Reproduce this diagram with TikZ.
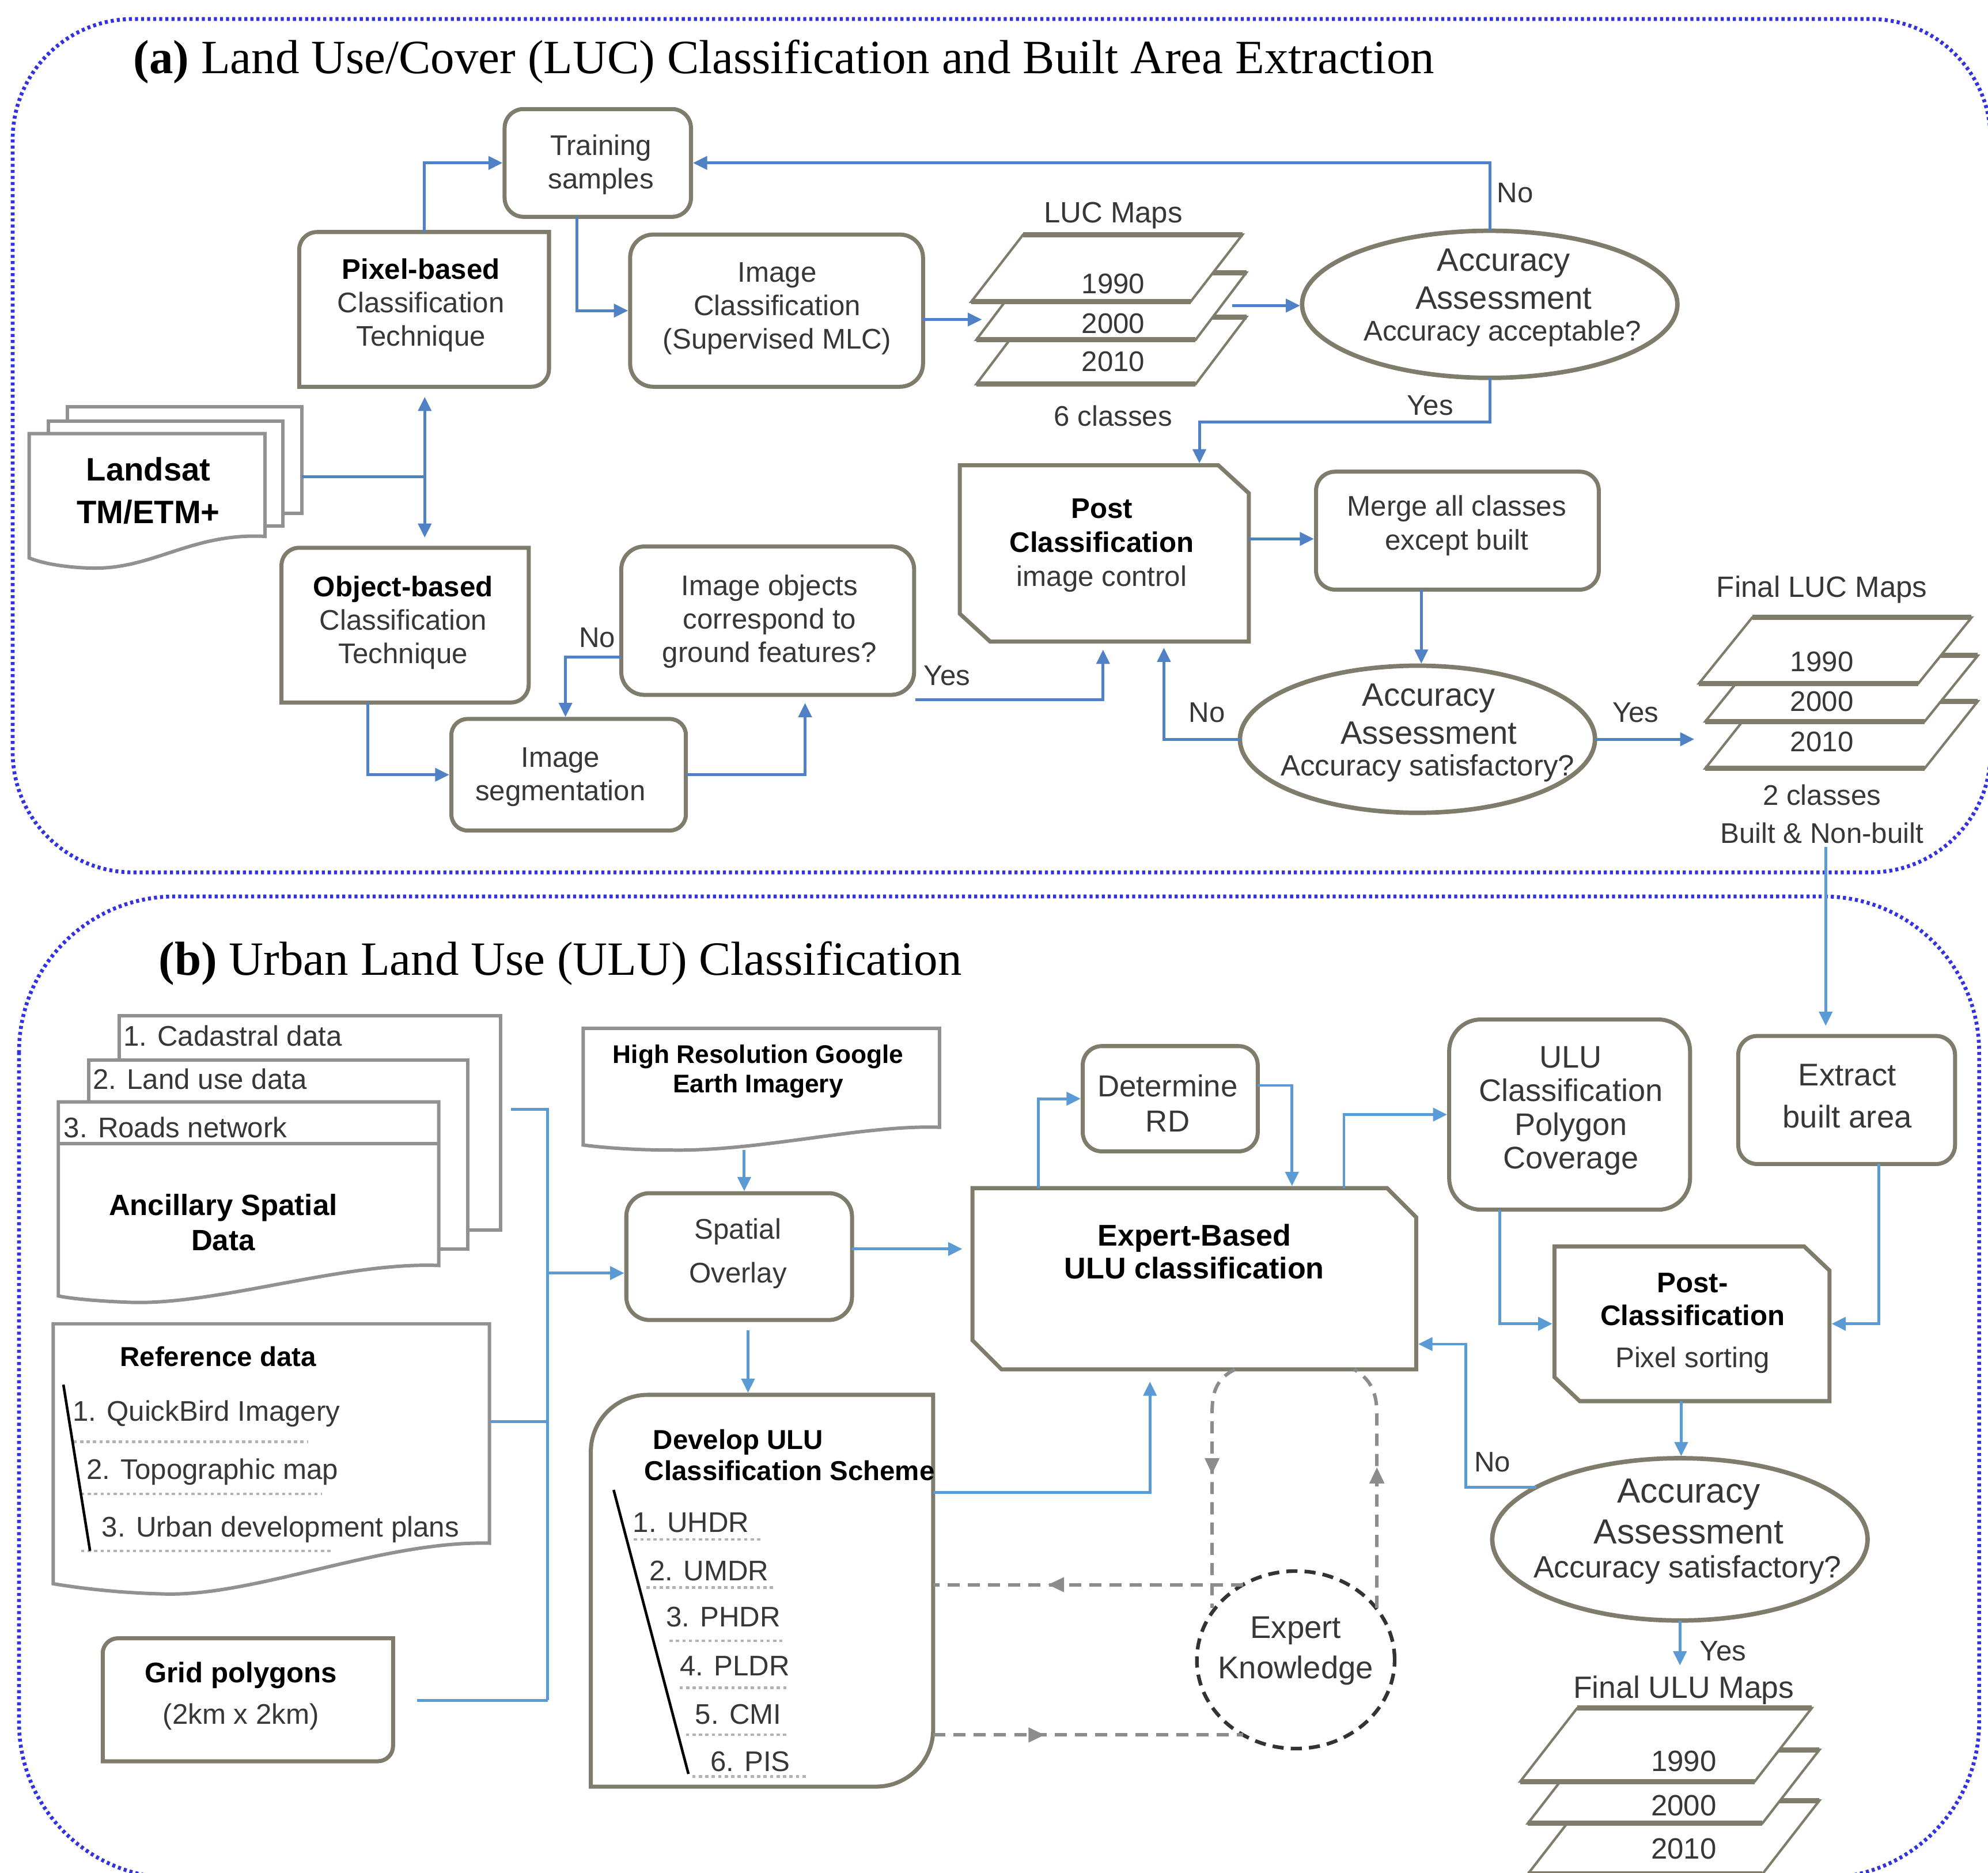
\documentclass[tikz,border=0pt]{standalone}
\usepackage{fontspec}
\setmainfont{Liberation Sans}
\newfontfamily\tserif{Liberation Serif}
\usetikzlibrary{arrows.meta,calc,decorations.markings,shapes.geometric}
\definecolor{frameblue}{RGB}{50,50,225}
\definecolor{arrblue}{RGB}{79,129,196}
\definecolor{arrblueb}{RGB}{91,155,213}
\definecolor{boxc}{RGB}{128,124,108}
\definecolor{docc}{RGB}{145,145,145}
\definecolor{txt}{RGB}{55,55,55}
\definecolor{dashc}{RGB}{140,140,140}
\newcommand\fsz[2]{\fontsize{#1}{#2}\selectfont}
\newcommand\bfk[1]{\textcolor{black}{\textbf{#1}}}
\newcommand\mkshp[6]{\node[inner sep=0pt, outer sep=0pt, minimum width={(#4-#2)*0.022009cm}, minimum height={(#5-#3)*0.022009cm}, #6] (#1) at ({(#2+#4)/2},{(#3+#5)/2}) {};}
\newcommand\mktlbr[5]{\draw[boxd] (#1,#4) -- (#1,{#2+#5}) .. controls (#1,{#2+0.448*#5}) and ({#1+0.448*#5},#2) .. ({#1+#5},#2) -- (#3,#2) -- (#3,{#4-#5}) .. controls (#3,{#4-0.448*#5}) and ({#3-0.448*#5},#4) .. ({#3-#5},#4) -- cycle;}
\newcommand\mksnip[6]{\draw[boxd] (#1,#2) -- ({#3-#5},#2) -- (#3,{#2+#6}) -- (#3,#4) -- ({#1+#5},#4) -- (#1,{#4-#6}) -- cycle;}
\newcommand\mkpara[5]{\draw[paraf] (#1,#2) -- ({#1+#3},#2) -- ({#1+#3+#5},{#2-#4}) -- ({#1+#5},{#2-#4}) -- cycle; \draw[parah] (#1,#2) -- ({#1+#3},#2); \draw[parah] ({#1+#5},{#2-#4}) -- ({#1+#3+#5},{#2-#4});}
\tikzset{
 frame/.style={draw=frameblue, line width=1.9pt, dash pattern=on 1.5pt off 1.5pt},
 boxd/.style={draw=boxc, line width=2pt, fill=white},
 docd/.style={draw=docc, line width=1.7pt, fill=white},
 paraf/.style={draw=boxc, line width=1.2pt, fill=white},
 parah/.style={draw=boxc, line width=2.6pt},
 ln/.style={draw=arrblue, line width=1.4pt},
 arr/.style={ln, -{Triangle[length=7pt,width=6.5pt]}, shorten >=1pt},
 lnb/.style={draw=arrblueb, line width=1.4pt},
 arrb/.style={lnb, -{Triangle[length=7pt,width=6.5pt]}, shorten >=1pt},
 tx/.style={text=txt, align=center, inner sep=0pt, font=\fsz{14}{16.5}},
 txl/.style={text=txt, align=left, inner sep=0pt, anchor=west, font=\fsz{14}{16.5}},
 dsh/.style={draw=dashc, line width=1.7pt, dash pattern=on 6pt off 4pt},
 dotl/.style={draw=gray!60, line width=1.2pt, dash pattern=on 1.6pt off 1.6pt},
 midarr/.style={postaction={decorate, decoration={markings, mark=at position #1 with {\arrow{Triangle[length=8pt,width=7pt]}}}}},
}
\begin{document}
\begin{tikzpicture}[x=0.022009cm, y=-0.022009cm]
\useasboundingbox (0,0) rectangle (1568,1477);
\begin{scope}
\clip (0,0) rectangle (1568,1477);
\draw[frame, rounded corners=2.09cm] (10,15) rectangle (1570,688);
\draw[frame, rounded corners=2.7cm] (15,707) rectangle (1561,1481);
% ULU maps stack
\mkpara{1205}{1478}{185}{58}{45}
\mkpara{1205}{1438}{185}{58}{45}
\mkpara{1199}{1405}{185}{58}{45}
\end{scope}

% ---------------- titles
\node[anchor=base west, inner sep=0pt, font=\tserif\fsz{23.6}{28}] (titleA) at (105,58) {\textbf{(a)} Land Use/Cover (LUC) Classification and Built Area Extraction};
\node[anchor=base west, inner sep=0pt, font=\tserif\fsz{23.6}{28}] (titleB) at (125,769) {\textbf{(b)} Urban Land Use (ULU) Classification};

% ---------------- part (a) shapes
\mkshp{train}{398}{86}{545}{171}{boxd, rounded corners=0.33cm}
\mkshp{pix}{236}{183}{433}{305}{}
\mktlbr{236}{183}{433}{305}{14}
\mkshp{imgc}{497}{185}{728}{305}{boxd, rounded corners=0.4cm}
\mkshp{obj}{222}{432}{417}{554}{}
\mktlbr{222}{432}{417}{554}{14}
\mkshp{seg}{356}{567}{541}{655}{boxd, rounded corners=0.28cm}
\mkshp{iobj}{490}{431}{721}{548}{boxd, rounded corners=0.4cm}
\mkshp{post}{757}{367}{985}{506}{}
\mksnip{757}{367}{985}{506}{24}{22}
\mkshp{merge}{1038}{372}{1261}{465}{boxd, rounded corners=0.33cm}
\mkshp{e1}{1027}{182}{1323}{298}{ellipse, boxd, line width=2.2pt}
\mkshp{e2}{978}{525}{1258}{641}{ellipse, boxd, line width=2.2pt}

% Landsat multi-document
\mkshp{landc}{53}{321}{238}{405}{draw=docc, line width=1.7pt, fill=white}
\mkshp{landb}{38}{332}{223}{415}{draw=docc, line width=1.7pt, fill=white}
\mkshp{land}{23}{342}{209}{440}{}
\draw[docd] (23,342) -- (209,342) -- (209,423) .. controls (150,420) and (120,450) .. (70,448) .. controls (45,447) and (30,443) .. (23,440) -- cycle;

% LUC maps stack
\mkpara{770}{303}{173}{53}{40}
\mkpara{770}{268}{173}{53}{40}
\mkpara{766}{238}{173}{53}{41}
\mkshp{luc}{766}{185}{983}{303}{}
% Final LUC maps stack
\mkpara{1345}{606}{173}{53}{42}
\mkpara{1345}{569}{173}{52}{42}
\mkpara{1340}{539}{173}{52}{42}
\mkshp{fluc}{1340}{487}{1560}{606}{}

% ---------------- part (a) texts
\node[tx] (trainT) at (474,130) {Training\\samples};
\node[tx] (pixT) at (332,240.5) {\bfk{Pixel-based}\\Classification\\Technique};
\node[tx] (imgcT) at (613,243.5) {Image\\Classification\\(Supervised MLC)};
\node[tx, font=\fsz{14.5}{17}] (lucT) at (878,170) {LUC Maps};
\node[tx] (y1a) at (878,224) {1990};
\node[tx] (y2a) at (878,255) {2000};
\node[tx] (y3a) at (878,285) {2010};
\node[tx] (c6T) at (878,328) {6 classes};
\node[tx, font=\fsz{16}{18.7}] (e1T) at (1186,220) {Accuracy\\Assessment};
\node[tx] (e1Q) at (1185,263) {Accuracy acceptable?};
\node[tx] (noA) at (1195,152) {No};
\node[tx] (yesA) at (1128,320) {Yes};
\node[tx, font=\bfseries\fsz{16}{21.2}, text=black] (landT) at (117,387) {Landsat\\TM/ETM+};
\node[tx] (objT) at (318,491) {\bfk{Object-based}\\Classification\\Technique};
\node[tx] (segT) at (442,613) {Image\\segmentation};
\node[tx] (iobjT) at (607,490) {Image objects\\correspond to\\ground features?};
\node[tx] (noB) at (471,503) {No};
\node[tx] (yesB) at (747,533) {Yes};
\node[tx, font=\fsz{14}{16.8}] (postT) at (869,430) {\bfk{Post}\\\bfk{Classification}\\image control};
\node[tx] (mergeT) at (1149,414.5) {Merge all classes\\except built};
\node[tx, font=\fsz{16}{18.7}] (e2T) at (1127,563) {Accuracy\\Assessment};
\node[tx, font=\fsz{14.5}{17}] (e2Q) at (1126,606) {Accuracy satisfactory?};
\node[tx] (noC) at (952,562) {No};
\node[tx] (yesC) at (1290,562) {Yes};
\node[tx, font=\fsz{14.5}{17}] (flucT) at (1437,465) {Final LUC Maps};
\node[tx] (y1b) at (1437,522) {1990};
\node[tx] (y2b) at (1437,553) {2000};
\node[tx] (y3b) at (1437,585) {2010};
\node[tx] (c2T) at (1437,627) {2 classes};
\node[tx] (bnbT) at (1437,657) {Built \& Non-built};

% ---------------- part (a) connectors
\coordinate (X455) at (455,0);
\coordinate (lucin) at (776,252);
\coordinate (lucout) at (972,241);
\coordinate (yes1) at (946,333);
\coordinate (jl) at (335,376);
\coordinate (X290) at (290,0);
\coordinate (X635) at (635,0);
\coordinate (Y518) at (0,518);
\coordinate (X446) at (446,0);
\coordinate (yes2s) at (722,552);
\coordinate (X870) at (870,0);
\coordinate (Y425) at (0,425);
\coordinate (X1121) at (1121,0);
\coordinate (X918) at (918,0);
\coordinate (flucin) at (1338,583);
\coordinate (fluco) at (1440,668);
\draw[arr] (pix.north) |- (train.west);
\draw[arr] (train.south -| X455) |- (imgc.west);
\draw[arr] (imgc.east |- lucin) -- (lucin);
\draw[arr] (lucout) -- (e1.west |- lucout);
\draw[arr] (e1.north) |- (train.east);
\draw[arr] (e1.south) |- (yes1) -- (post.north -| yes1);
\draw[ln] (landc.east |- jl) -- (jl);
\draw[arr] (jl) -- ([yshift=-4pt]pix.south -| jl);
\draw[arr] (jl) -- ([yshift=4pt]obj.north -| jl);
\draw[arr] (obj.south -| X290) |- (seg.west);
\draw[arr] (seg.east) -| ([yshift=-3pt]iobj.south -| X635);
\draw[arr] (iobj.west |- Y518) -| (seg.north -| X446);
\draw[arr] (yes2s) -| ([yshift=-3pt]post.south -| X870);
\draw[arr] (post.east |- Y425) -- (merge.west |- Y425);
\draw[arr] (merge.south -| X1121) -- (e2.north -| X1121);
\draw[arr] (e2.west) -| ([yshift=-2pt]post.south -| X918);
\draw[arr] (e2.east) -- (flucin);

% ---------------- part (b) shapes
% Ancillary multi-document
\mkshp{anc1}{94}{801}{395}{970}{draw=docc, line width=1.7pt, fill=white}
\mkshp{anc2}{70}{836}{369}{985}{draw=docc, line width=1.7pt, fill=white}
\mkshp{anc}{46}{869}{346}{1022}{}
\draw[docd] (46,869) -- (346,869) -- (346,998) .. controls (270,995) and (170,1030) .. (101,1027) .. controls (75,1026) and (55,1024) .. (46,1022) -- cycle;
\draw[draw=docc, line width=1.7pt] (anc.west |- 0,902) -- (anc.east |- 0,902);
% Reference data document
\mkshp{ref}{42}{1044}{386}{1249}{}
\draw[docd] (42,1044) -- (386,1044) -- (386,1217) .. controls (300,1215) and (200,1260) .. (127,1257) .. controls (90,1256) and (60,1252) .. (42,1249) -- cycle;
% High resolution document
\mkshp{hires}{460}{811}{741}{907}{}
\draw[docd] (460,811) -- (741,811) -- (741,889) .. controls (680,887) and (600,908) .. (530,907) .. controls (500,907) and (475,905) .. (460,903) -- cycle;
\mkshp{grid}{81}{1292}{310}{1389}{}
\mktlbr{81}{1292}{310}{1389}{12}
\mkshp{spat}{494}{941}{672}{1041}{boxd, rounded corners=0.4cm}
\mkshp{dev}{466}{1100}{736}{1409}{}
\mktlbr{466}{1100}{736}{1409}{45}
\mkshp{det}{854}{825}{992}{908}{boxd, rounded corners=0.33cm}
\mkshp{expert}{767}{937}{1117}{1080}{}
\mksnip{767}{937}{1117}{1080}{23}{23}
\mkshp{ulu}{1143}{804}{1333}{954}{boxd, rounded corners=0.55cm}
\mkshp{extract}{1371}{817}{1542}{918}{boxd, rounded corners=0.33cm}
\mkshp{postb}{1226}{983}{1443}{1105}{}
\mksnip{1226}{983}{1443}{1105}{20}{19}
\mkshp{e3}{1177}{1150}{1473}{1278}{ellipse, boxd, line width=2.2pt}
\mkshp{ek}{944}{1239}{1100}{1379}{ellipse, draw=black!80, line width=1.8pt, dash pattern=on 5.5pt off 3.5pt}
\mkshp{fulu}{1199}{1347}{1431}{1477}{}

% ---------------- part (b) texts
\node[txl] (anc1T) at (97,817) {1. Cadastral data};
\node[txl] (anc2T) at (73,851) {2. Land use data};
\node[txl] (anc3T) at (50,889) {3. Roads network};
\node[tx, font=\bfseries\fsz{14.5}{17.5}, text=black] (ancT) at (176,964) {Ancillary Spatial\\Data};
\node[tx, font=\bfseries\fsz{12.6}{14.4}, text=black] (hiresT) at (598,845) {High Resolution Google\\Earth Imagery};
\node[tx, font=\fsz{14}{21.8}] (spatT) at (582,988.5) {Spatial\\Overlay};
\node[tx, font=\bfseries\fsz{13.5}{16}, text=black] (refT) at (172,1070) {Reference data};
\node[txl] (ref1) at (57,1115) {1. QuickBird Imagery};
\node[txl] (ref2) at (68,1161) {2. Topographic map};
\node[txl] (ref3) at (80,1206) {3. Urban development plans};
\draw[dotl] (58,1137) -- (243,1137);
\draw[dotl] (64,1178) -- (254,1178);
\draw[dotl] (64,1223) -- (261,1223);
\draw[black, line width=1.3pt] (50,1092) -- (71,1223);
\node[tx, font=\fsz{14}{20.6}] (gridT) at (190,1337.5) {\bfk{Grid polygons}\\(2km x 2km)};
\node[txl, font=\bfseries\fsz{13.5}{15.6}, text=black] (devT) at (508,1147.5) {\hspace{0.15cm}Develop ULU\\Classification Scheme};
\node[txl] (d1) at (499,1201) {1. UHDR};
\node[txl] (d2) at (512,1239) {2. UMDR};
\node[txl] (d3) at (525,1275) {3. PHDR};
\node[txl] (d4) at (536,1314) {4. PLDR};
\node[txl] (d5) at (548,1352) {5. CMI};
\node[txl] (d6) at (560,1389) {6. PIS};
\draw[dotl] (500,1214) -- (602,1214);
\draw[dotl] (510,1252) -- (610,1252);
\draw[dotl] (528,1294) -- (617,1294);
\draw[dotl] (536,1331) -- (620,1331);
\draw[dotl] (541,1368) -- (620,1368);
\draw[dotl] (546,1401) -- (637,1401);
\draw[black, line width=1.3pt] (484,1175) -- (543,1399);
\node[tx, font=\fsz{15}{17.5}] (detT) at (921,870) {Determine\\RD};
\node[tx, font=\bfseries\fsz{14.8}{16.2}, text=black] (expertT) at (942,987) {Expert-Based\\ULU classification};
\node[tx, font=\fsz{15.4}{16.6}] (uluT) at (1239,876) {ULU\\Classification\\Polygon\\Coverage};
\node[tx, font=\fsz{15.5}{20.6}] (extractT) at (1457,864.5) {Extract\\built area};
\node[tx, font=\fsz{14}{16.2}] (postbT) at (1335,1043.5) {\bfk{Post-}\\\bfk{Classification}\\[4.4pt]Pixel sorting};
\node[tx, font=\fsz{17.2}{20}] (e3T) at (1332,1192) {Accuracy\\Assessment};
\node[tx, font=\fsz{15.2}{17}] (e3Q) at (1331,1238) {Accuracy satisfactory?};
\node[tx, font=\fsz{15.5}{20}] (ekT) at (1022,1302) {Expert\\Knowledge};
\node[tx] (noD) at (1177,1153) {No};
\node[tx] (yesD) at (1359,1302) {Yes};
\node[tx, font=\fsz{15.2}{17}] (fuluT) at (1328,1333) {Final ULU Maps};
\node[tx, font=\fsz{14.5}{17}] (y1c) at (1328,1389) {1990};
\node[tx, font=\fsz{14.5}{17}] (y2c) at (1328,1424) {2000};
\node[tx, font=\fsz{14.5}{17}] (y3c) at (1328,1458) {2010};

% ---------------- part (b) connectors
\coordinate (ancout) at (403,875);
\coordinate (J1) at (432,875);
\coordinate (J2) at (432,1121);
\coordinate (J3) at (432,1341);
\coordinate (J4) at (432,1004);
\coordinate (gridout) at (329,1341);
\coordinate (X587) at (587,0);
\coordinate (Y985) at (0,985);
\coordinate (X590) at (590,0);
\coordinate (Y1177) at (0,1177);
\coordinate (X907) at (907,0);
\coordinate (X819) at (819,0);
\coordinate (Y856) at (0,856);
\coordinate (X1019) at (1019,0);
\coordinate (X1060) at (1060,0);
\coordinate (X1183) at (1183,0);
\coordinate (X1482) at (1482,0);
\coordinate (X1326) at (1326,0);
\coordinate (C1156) at (1156,1060);
\coordinate (fuluin) at (1325,1315);
\coordinate (X974) at (974,0);
\coordinate (X1068) at (1068,0);
\coordinate (ekl) at (956,1268);
\coordinate (ekr) at (1086,1268);
\draw[lnb] (ancout) -- (J1) -- (J3);
\draw[lnb] (ref.east |- J2) -- (J2);
\draw[lnb] (gridout) -- (J3);
\draw[arrb] (J4) -- (spat.west |- J4);
\draw[arrb] (hires.south -| X587) -- (spat.north -| X587);
\draw[arrb] (spat.east |- Y985) -- ([xshift=-4pt]expert.west |- Y985);
\draw[arrb] ([yshift=-5pt]spat.south -| X590) -- (dev.north -| X590);
\draw[arrb] (dev.east |- Y1177) -| ([yshift=-5pt]expert.south -| X907);
\draw[arrb] (expert.north -| X819) |- (det.west);
\draw[arrb] (det.east |- Y856) -| (expert.north -| X1019);
\draw[arrb] (expert.north -| X1060) |- (ulu.west);
\draw[arrb] (ulu.south -| X1183) |- (postb.west);
\draw[arrb] (extract.south -| X1482) |- (postb.east);
\draw[arrb] (postb.south -| X1326) -- (e3.north -| X1326);
\draw[arrb] (e3.160) -| (C1156) -- (expert.east |- C1156);
\draw[arrb] (e3.south) -- (fuluin);
\draw[arrb] (fluco) -- ([yshift=4pt]extract.north -| fluco);
% dashed expert loop
\draw[dsh, midarr=0.46] (expert.south -| X974) .. controls (958,1088) and (956,1100) .. (956,1115) -- (ekl);
\draw[dsh, midarr=0.57] (ekr) -- (1086,1115) .. controls (1086,1100) and (1082,1088) .. (expert.south -| X1068);
\draw[dsh, midarr=0.63] (ek.125) -- (dev.east |- ek.125);
\draw[dsh, midarr=0.36] (dev.east |- ek.235) -- (ek.235);
\end{tikzpicture}
\end{document}
